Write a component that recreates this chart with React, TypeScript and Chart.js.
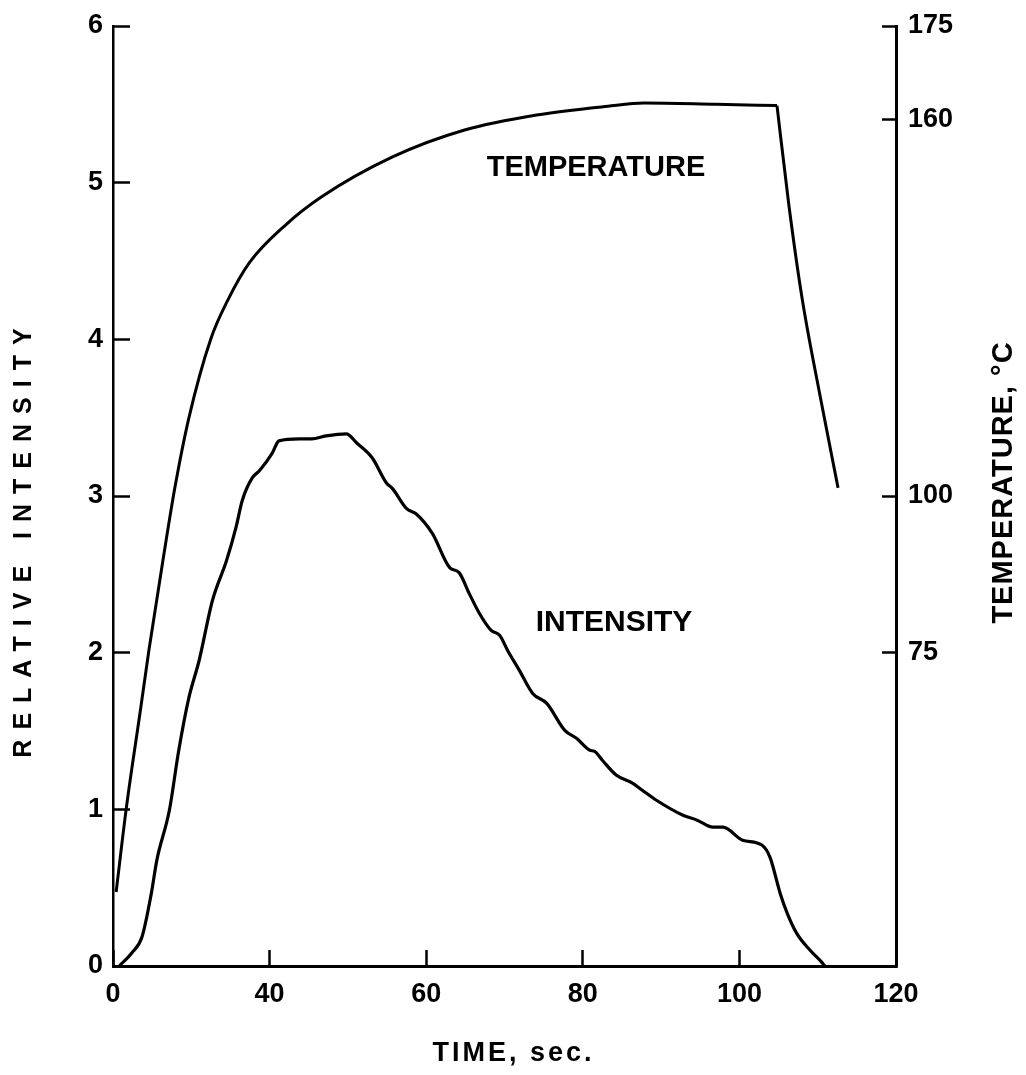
import React, { useEffect, useRef } from "react";
import { Chart, registerables } from "chart.js";

Chart.register(...registerables);

// Temperature curve (time in s, temperature in °C, right axis)
const TEMP_TIME = [20.4, 21.7, 23.5, 24.6, 26.4, 27.9, 29.7, 32.5, 34.6, 37.4, 42.0, 46.6, 55.7, 64.9, 74.1, 83.2, 87.8, 97.0, 104.8, 106.3, 108.0, 110.3, 112.6];
const TEMP_C = [36.8, 50.2, 65.8, 75.5, 89.9, 101.3, 112.5, 125.1, 131.1, 137.2, 143.2, 147.7, 154.1, 158.4, 160.8, 162.2, 162.7, 162.5, 162.3, 146.6, 131.6, 116.0, 101.3];
const TEMP_TURN_INDEX = 18; // heater switched off here

// Intensity curve (time in s, relative intensity, left axis)
const INT_TIME = [20.8, 22.4, 23.7, 24.9, 25.6, 27.2, 28.4, 29.7, 31.0, 32.7, 34.5, 35.7, 36.5, 37.8, 38.7, 40.3, 41.2, 43.8, 45.4, 47.2, 49.8, 51.1, 53.1, 54.9, 55.7, 57.5, 58.7, 60.8, 63.0, 64.2, 65.5, 66.8, 68.3, 69.4, 70.4, 71.9, 73.6, 75.4, 77.7, 79.2, 80.9, 81.5, 82.5, 84.3, 86.4, 87.6, 89.4, 92.8, 94.6, 96.6, 97.9, 100.4, 102.9, 103.9, 105.2, 106.1, 107.3, 109.0, 110.5, 110.9];
const INT_VALUE = [0.0, 0.083, 0.185, 0.465, 0.676, 0.994, 1.377, 1.714, 1.95, 2.333, 2.588, 2.798, 2.97, 3.117, 3.161, 3.27, 3.352, 3.365, 3.365, 3.384, 3.397, 3.34, 3.244, 3.085, 3.047, 2.919, 2.887, 2.76, 2.543, 2.511, 2.377, 2.25, 2.142, 2.11, 2.014, 1.887, 1.74, 1.676, 1.504, 1.453, 1.377, 1.37, 1.313, 1.217, 1.166, 1.122, 1.058, 0.962, 0.931, 0.886, 0.886, 0.803, 0.771, 0.695, 0.465, 0.338, 0.21, 0.102, 0.025, 0.0];

// Axis ticks
const X_TICKS = [20, 40, 60, 80, 100, 120];
const X_TICK_LABELS = ["0", "40", "60", "80", "100", "120"];
const LEFT_TICKS = [0, 1, 2, 3, 4, 5, 6];
const RIGHT_TICKS = [75, 100, 160, 175];

const FONT = "Liberation Sans";
const tickFont = { family: FONT, size: 27, weight: "bold" as const };

const textPlugin = {
  id: "figureText",
  afterDraw(chart: any) {
    const ctx = chart.ctx as CanvasRenderingContext2D;
    const draw = (text: string, x: number, y: number, size: number, spacing: number, rot: number) => {
      ctx.save();
      ctx.translate(x, y);
      ctx.rotate(rot);
      ctx.font = `bold ${size}px "${FONT}"`;
      (ctx as any).letterSpacing = `${spacing}px`;
      ctx.fillStyle = "#000";
      ctx.textAlign = "center";
      ctx.textBaseline = "middle";
      ctx.fillText(text, spacing / 2, 0);
      ctx.restore();
    };
    draw("TEMPERATURE", 596, 168, 29, 0, 0);
    draw("INTENSITY", 614, 623, 30, 0, 0);
    draw("RELATIVE INTENSITY", 24, 543, 25, 10, -Math.PI / 2);
    draw("TEMPERATURE, °C", 1004, 483, 29, 1, -Math.PI / 2);
    draw("TIME, sec.", 512, 1054, 27, 3, 0);
  },
};

export default function App() {
  const ref = useRef<HTMLCanvasElement | null>(null);

  useEffect(() => {
    if (!ref.current) return;
    const tempPts = TEMP_TIME.map((t, i) => ({ x: t, y: TEMP_C[i] }));
    const intData = INT_TIME.map((t, i) => ({ x: t, y: INT_VALUE[i] }));
    const lineStyle = { showLine: true, borderColor: "#000", pointRadius: 0, fill: false };

    const chart = new Chart(ref.current, {
      type: "scatter",
      data: {
        datasets: [
          {
            ...lineStyle,
            label: "Temperature (heating)",
            data: tempPts.slice(0, TEMP_TURN_INDEX + 1),
            yAxisID: "y1",
            borderWidth: 3,
            cubicInterpolationMode: "monotone",
          },
          {
            ...lineStyle,
            label: "Temperature (cooling)",
            data: tempPts.slice(TEMP_TURN_INDEX),
            yAxisID: "y1",
            borderWidth: 3,
            cubicInterpolationMode: "monotone",
          },
          {
            ...lineStyle,
            label: "Intensity",
            data: intData,
            yAxisID: "y",
            borderWidth: 3.2,
            cubicInterpolationMode: "monotone",
          },
        ],
      },
      options: {
        animation: false,
        responsive: false,
        layout: { padding: { top: 26, left: 0, right: 0, bottom: 0 } },
        plugins: { legend: { display: false }, tooltip: { enabled: false } },
        scales: {
          x: {
            type: "linear",
            position: "bottom",
            min: 20,
            max: 120,
            afterBuildTicks: (s: any) => {
              s.ticks = X_TICKS.map((v) => ({ value: v }));
            },
            afterFit: (s: any) => {
              s.height = 109;
              s.paddingLeft = 0;
              s.paddingRight = 0;
            },
            ticks: {
              autoSkip: false,
              maxRotation: 0,
              color: "#000",
              font: tickFont,
              padding: 28,
              callback: (_v: any, i: number) => X_TICK_LABELS[i],
            },
            grid: { drawOnChartArea: false, tickLength: -16, tickWidth: 2.5, tickColor: "#000" },
            border: { display: true, color: "#000", width: 3 },
          },
          y: {
            type: "linear",
            position: "left",
            min: 0,
            max: 6,
            afterBuildTicks: (s: any) => {
              s.ticks = LEFT_TICKS.map((v) => ({ value: v }));
            },
            afterFit: (s: any) => {
              s.width = 113;
              s.paddingTop = 0;
              s.paddingBottom = 0;
            },
            ticks: { color: "#000", font: tickFont, padding: 27 },
            grid: { drawOnChartArea: false, tickLength: -17, tickWidth: 2.5, tickColor: "#000" },
            border: { display: true, color: "#000", width: 2.5 },
          },
          y1: {
            type: "linear",
            position: "right",
            min: 25,
            max: 175,
            afterBuildTicks: (s: any) => {
              s.ticks = RIGHT_TICKS.map((v) => ({ value: v }));
            },
            afterFit: (s: any) => {
              s.width = 130;
              s.paddingTop = 0;
              s.paddingBottom = 0;
            },
            ticks: { color: "#000", font: tickFont, padding: 26 },
            grid: { drawOnChartArea: false, tickLength: -14, tickWidth: 2.5, tickColor: "#000" },
            border: { display: true, color: "#000", width: 3 },
          },
        },
      },
      plugins: [textPlugin],
    });
    return () => chart.destroy();
  }, []);

  return (
    <div style={{ position: "fixed", left: 0, top: 0, width: 1026, height: 1075, background: "#fff" }}>
      <canvas ref={ref} width={1026} height={1075} style={{ width: 1026, height: 1075, display: "block" }} />
    </div>
  );
}
